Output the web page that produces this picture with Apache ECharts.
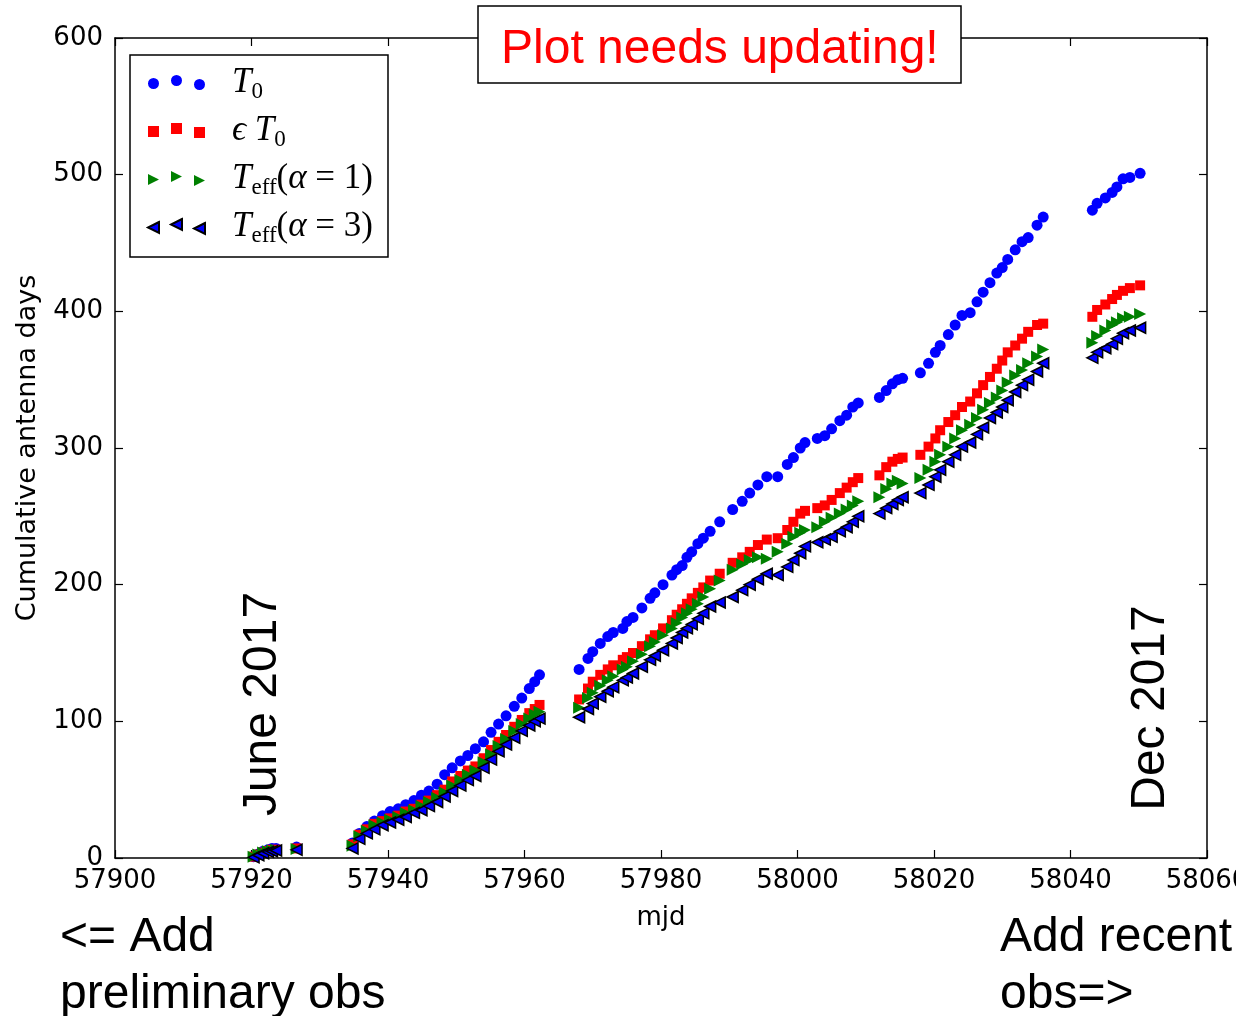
<!DOCTYPE html>
<html>
<head>
<meta charset="utf-8">
<script src="https://cdn.jsdelivr.net/npm/echarts@6/dist/echarts.min.js"></script>
<style>
html,body{margin:0;padding:0;background:#fff;}
#chart{width:1236px;height:1016px;}
</style>
</head>
<body>
<div id="chart"></div>
<script>
// ---- data ----
const mjd = [
  57920.3, 57921.0, 57921.7, 57922.4, 57923.0, 57923.6, 57926.6,
  57934.8, 57935.8, 57936.9, 57938.0, 57939.2, 57940.3, 57941.5, 57942.6, 57943.8, 57944.9,
  57946.0, 57947.2, 57948.3, 57949.4, 57950.6, 57951.7, 57952.8, 57954.0, 57955.1, 57956.2,
  57957.3, 57958.5, 57959.6, 57960.7, 57961.5, 57962.2,
  57968.0, 57969.3, 57970.0, 57971.1, 57972.2, 57973.0, 57974.4, 57975.0, 57975.9, 57977.2,
  57978.4, 57979.1, 57980.3, 57981.6, 57982.3, 57983.1, 57983.8, 57984.5, 57985.4, 57986.2,
  57987.2, 57988.6, 57990.5, 57991.9, 57993.0, 57994.2, 57995.5, 57997.1, 57998.5, 57999.4,
  58000.4, 58001.1, 58002.9, 58004.0, 58005.0, 58006.2, 58007.2, 58008.1, 58008.9,
  58012.0, 58013.0, 58013.9, 58014.7, 58015.4,
  58018.0, 58019.2, 58020.2, 58020.9, 58022.1, 58023.1, 58024.1, 58025.3, 58026.3, 58027.2,
  58028.2, 58029.2, 58030.0, 58030.8, 58031.9, 58032.9, 58033.8, 58035.1, 58036.0,
  58043.2, 58043.9, 58045.1, 58046.1, 58046.8, 58047.7, 58048.7, 58050.2
];
const t0 = [
  1, 3, 5, 6, 7, 7, 8,
  11, 18, 23, 27, 31, 34, 36, 39, 42, 46,
  49, 54, 61, 66, 71, 75, 80, 85, 92, 98,
  104, 111, 117, 124, 129, 134,
  138, 146, 151, 157, 162, 165, 168, 173, 176, 183,
  190, 194, 200, 207, 211, 214, 220, 224, 230, 234,
  239, 246, 255, 261, 267, 273, 279, 279, 288, 293,
  300, 304, 307, 309, 314, 320, 324, 330, 333,
  337, 342, 347, 350, 351,
  355, 362, 370, 375, 383, 390, 397, 399, 407, 414,
  421, 428, 432, 438, 445, 451, 454, 463, 469,
  474, 479, 483, 487, 491, 497, 498, 501
];
const eT0 = [
  1, 2.5, 4, 5, 6, 6, 7,
  10, 17, 21, 25, 27, 29, 31, 34, 36, 39,
  42, 46, 50, 56, 60, 64, 67, 73, 79, 85,
  90, 96, 101, 106, 109, 112,
  116, 124, 129, 134, 138, 141, 145, 147, 150, 155,
  160, 163, 168, 174, 178, 182, 186, 190, 194, 198,
  203, 208, 216, 220, 224, 229, 233, 234, 240, 246,
  252, 254, 256, 258, 262, 267, 271, 275, 278,
  280, 286, 290, 292, 293,
  295, 301, 307, 313, 319, 324, 330, 334, 340, 346,
  352, 358, 364, 370, 375, 380, 385, 390, 391,
  396, 401, 405, 409, 412, 415, 417, 419
];
const teffA1 = [
  1, 2.5, 4, 5, 5.5, 6, 6.5,
  9, 16, 20, 24, 26, 28, 30, 33, 35, 38,
  41, 44, 48, 53, 57, 61, 64, 70, 76, 82,
  87, 93, 98, 102, 105, 107,
  110, 117, 121, 126, 130, 133, 138, 140, 144, 149,
  155, 158, 163, 168, 172, 176, 179, 182, 186, 191,
  197, 203, 211, 215, 218, 220, 219, 224, 230, 235,
  238, 240, 242, 246, 249, 252, 255, 258, 261,
  264, 270, 274, 276, 274,
  278, 284, 290, 295, 301, 307, 313, 317, 322, 328,
  333, 337, 342, 348, 353, 357, 362, 367, 372,
  377, 382, 386, 390, 392, 395, 396, 398
];
const teffA3 = [
  0.5, 2, 3.5, 4.5, 5, 5.5, 6,
  7, 14, 18, 21, 24, 26, 28, 30, 33, 35,
  38, 41, 45, 49, 53, 57, 60, 66, 72, 78,
  83, 88, 93, 97, 100, 102,
  103, 109, 113, 118, 122, 125, 130, 132, 135, 140,
  145, 148, 152, 157, 161, 165, 168, 171, 175, 179,
  184, 187, 191, 196, 200, 204, 208, 207, 213, 218,
  223, 228, 231, 233, 235, 239, 242, 246, 250,
  252, 256, 259, 262, 264,
  267, 273, 279, 284, 290, 295, 301, 304, 310, 315,
  322, 326, 330, 335, 341, 346, 350, 356, 362,
  366, 370, 373, 376, 380, 384, 386, 388
];
const xTicks = [57900, 57920, 57940, 57960, 57980, 58000, 58020, 58040, 58060];
const yTicks = [0, 100, 200, 300, 400, 500, 600];
const legendLabels = {
  'T0': '{it|T}{sub|0}',
  'eT0': '{it|\u03f5 T}{sub|0}',
  'Teff1': '{it|T}{sub|eff}{rm|(}{it|\u03b1}{rm| = 1)}',
  'Teff3': '{it|T}{sub|eff}{rm|(}{it|\u03b1}{rm| = 3)}'
};

// ---- build ----
function pairs(xs, ys) { return xs.map((x, i) => [x, ys[i]]); }
const sans = 'DejaVu Sans';
const ann = 'Liberation Sans';

// three-marker legend icons (matplotlib scatterpoints=3 style)
function circ(cx, cy, r) {
  return 'M' + (cx - r) + ' ' + cy + ' A' + r + ' ' + r + ' 0 1 0 ' + (cx + r) + ' ' + cy +
         ' A' + r + ' ' + r + ' 0 1 0 ' + (cx - r) + ' ' + cy + ' Z ';
}
function sq(cx, cy, h) { return 'M' + (cx - h) + ' ' + (cy - h) + ' L' + (cx + h) + ' ' + (cy - h) + ' L' + (cx + h) + ' ' + (cy + h) + ' L' + (cx - h) + ' ' + (cy + h) + ' Z '; }
function triR(cx, cy, h) { return 'M' + (cx - h) + ' ' + (cy - h) + ' L' + (cx + h) + ' ' + cy + ' L' + (cx - h) + ' ' + (cy + h) + ' Z '; }
function triL(cx, cy, h) { return 'M' + (cx + h) + ' ' + (cy - h) + ' L' + (cx - h) + ' ' + cy + ' L' + (cx + h) + ' ' + (cy + h) + ' Z '; }
const offs = [[5.5, 8.5], [28.5, 5.5], [51.5, 9.5]];
const iconCirc = 'path://' + offs.map(o => circ(o[0], o[1], 5.5)).join('');
const iconSq = 'path://' + offs.map(o => sq(o[0], o[1], 5.5)).join('');
const iconTR = 'path://' + offs.map(o => triR(o[0], o[1], 5.5)).join('');
const iconTL = 'path://' + offs.map(o => triL(o[0], o[1], 5.5)).join('');

const chart = echarts.init(document.getElementById('chart'), null, {renderer: 'canvas'});
const axisCommon = {
  axisLine: {show: true, onZero: false, lineStyle: {color: '#000', width: 1.5}},
  axisTick: {show: true, inside: true, length: 8, lineStyle: {color: '#000', width: 1.2}},
  splitLine: {show: false}
};
const option = {
  animation: false,
  backgroundColor: '#fff',
  grid: {left: 115, right: 29, top: 38, bottom: 158, containLabel: false, outerBoundsMode: 'none'},
  title: {
    text: 'Plot needs updating!',
    left: 478, top: 6,
    padding: [20, 23, 9, 23],
    borderColor: '#000', borderWidth: 1.5, backgroundColor: '#fff',
    textStyle: {color: '#ff0000', fontFamily: ann, fontSize: 48, fontWeight: 'normal', lineHeight: 48}
  },
  legend: {
    orient: 'vertical',
    left: 130, top: 55,
    padding: [7, 15, 10, 17],
    itemGap: 7,
    itemWidth: 57, itemHeight: 15,
    borderColor: '#000', borderWidth: 1.5, backgroundColor: '#fff',
    data: [
      {name: 'T0', icon: iconCirc},
      {name: 'eT0', icon: iconSq},
      {name: 'Teff1', icon: iconTR},
      {name: 'Teff3', icon: iconTL}
    ],
    formatter: function (name) { return legendLabels[name]; },
    textStyle: {
      padding: [0, 0, 0, 22],
      rich: {
        it: {fontFamily: 'Liberation Serif', fontStyle: 'italic', fontSize: 35, color: '#000', lineHeight: 36},
        rm: {fontFamily: 'Liberation Serif', fontSize: 35, color: '#000', lineHeight: 36},
        sub: {fontFamily: 'Liberation Serif', fontSize: 23, color: '#000', lineHeight: 18, padding: [18, 0, 0, 0]}
      }
    }
  },
  xAxis: [
    Object.assign({
      type: 'value', min: xTicks[0], max: xTicks[xTicks.length - 1], interval: 20,
      position: 'bottom',
      name: 'mjd', nameLocation: 'middle', nameGap: 47,
      nameTextStyle: {fontFamily: sans, fontSize: 26, color: '#000', verticalAlign: 'top'},
      axisLabel: {show: true, margin: 10, fontFamily: sans, fontSize: 26, color: '#000',
                  formatter: v => String(v)}
    }, axisCommon),
    Object.assign({
      type: 'value', min: xTicks[0], max: xTicks[xTicks.length - 1], interval: 20,
      position: 'top', axisLabel: {show: false}
    }, axisCommon)
  ],
  yAxis: [
    Object.assign({
      type: 'value', min: yTicks[0], max: yTicks[yTicks.length - 1], interval: 100,
      position: 'left',
      name: 'Cumulative antenna days', nameLocation: 'middle', nameGap: 74,
      nameTextStyle: {fontFamily: sans, fontSize: 27, color: '#000'},
      axisLabel: {show: true, margin: 12, fontFamily: sans, fontSize: 26, color: '#000'}
    }, axisCommon),
    Object.assign({
      type: 'value', min: yTicks[0], max: yTicks[yTicks.length - 1], interval: 100,
      position: 'right', axisLabel: {show: false}
    }, axisCommon)
  ],
  series: [
    {name: 'T0', type: 'scatter', data: pairs(mjd, t0), symbol: 'circle', symbolSize: 11,
     itemStyle: {color: '#0000ff', opacity: 1}},
    {name: 'eT0', type: 'scatter', data: pairs(mjd, eT0), symbol: 'rect', symbolSize: 10,
     itemStyle: {color: '#ff0000', opacity: 1}},
    {name: 'Teff1', type: 'scatter', data: pairs(mjd, teffA1), symbol: 'triangle', symbolSize: [12, 12],
     symbolRotate: -90, itemStyle: {color: '#008000', opacity: 1}},
    {name: 'Teff3', type: 'scatter', data: pairs(mjd, teffA3), symbol: 'triangle', symbolSize: [11, 11],
     symbolRotate: 90, itemStyle: {color: '#0000ff', borderColor: '#000', borderWidth: 1.5, opacity: 1}}
  ],
  graphic: [
    {type: 'text', x: 263, y: 704, rotation: Math.PI / 2,
     style: {text: 'June 2017', fontFamily: ann, fontSize: 48, fill: '#000', align: 'center', verticalAlign: 'middle'}},
    {type: 'text', x: 1151, y: 708, rotation: Math.PI / 2,
     style: {text: 'Dec 2017', fontFamily: ann, fontSize: 48, fill: '#000', align: 'center', verticalAlign: 'middle'}},
    {type: 'text', left: 60, top: 909,
     style: {text: '<= Add\npreliminary obs', fontFamily: ann, fontSize: 48, lineHeight: 57, fill: '#000'}},
    {type: 'text', left: 1000, top: 909,
     style: {text: 'Add recent\nobs=>', fontFamily: ann, fontSize: 48, lineHeight: 57, fill: '#000'}}
  ]
};
chart.setOption(option);
</script>
</body>
</html>
